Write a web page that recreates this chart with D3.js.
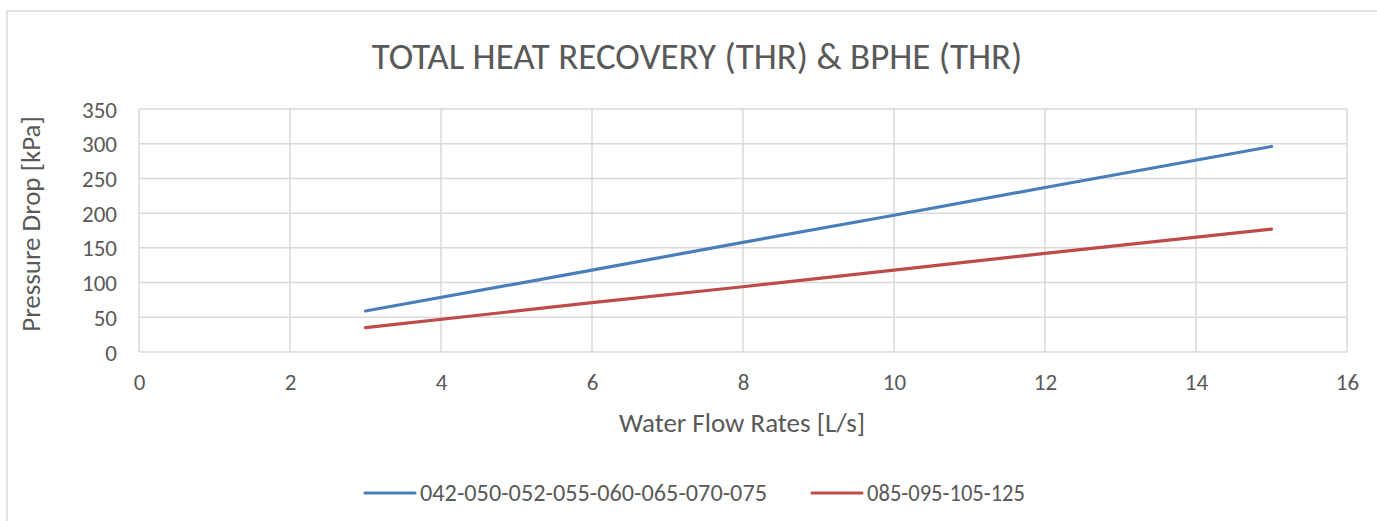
<!DOCTYPE html>
<html>
<head>
<meta charset="utf-8">
<script src="https://cdn.jsdelivr.net/npm/d3@7"></script>
<style>
  body { margin: 0; background: #fff; }
  svg { display: block; font-family: Carlito, "Open Sans", "Noto Sans", sans-serif; }
</style>
</head>
<body>
<div id="chart"></div>
<script>
// data
var flowBlue = [3, 6, 8, 10, 12, 15];
var dropBlue = [59, 118, 158, 197, 237, 296];
var flowRed = [3, 6, 8, 10, 12, 15];
var dropRed = [35, 71, 94, 118, 142, 177];
var seriesNames = ["042-050-052-055-060-065-070-075", "085-095-105-125"];
var seriesColors = ["#4a7ebb", "#be4b48"];
var xTicks = [0, 2, 4, 6, 8, 10, 12, 14, 16];
var yTicks = [0, 50, 100, 150, 200, 250, 300, 350];

var W = 1377, H = 521;
var margin = {left: 139, right: 30, top: 109, bottom: 169};

var svg = d3.select("#chart").append("svg")
  .attr("width", W).attr("height", H);

// outer chart frame (cut by the window on right and bottom)
svg.append("rect")
  .attr("x", 7).attr("y", 11)
  .attr("width", W + 10).attr("height", H + 10)
  .attr("fill", "#fff")
  .attr("stroke", "#d9d9d9").attr("stroke-width", 1.5);

var x = d3.scaleLinear().domain([0, 16]).range([margin.left, W - margin.right]);
var y = d3.scaleLinear().domain([0, 350]).range([H - margin.bottom, margin.top]);

// gridlines
svg.append("g").selectAll("line.v")
  .data(xTicks).enter().append("line")
  .attr("x1", function(d){ return x(d); }).attr("x2", function(d){ return x(d); })
  .attr("y1", y(0)).attr("y2", y(350))
  .attr("stroke", "#d9d9d9").attr("stroke-width", 1.5);
svg.append("g").selectAll("line.h")
  .data(yTicks).enter().append("line")
  .attr("x1", x(0)).attr("x2", x(16))
  .attr("y1", function(d){ return y(d); }).attr("y2", function(d){ return y(d); })
  .attr("stroke", "#d9d9d9").attr("stroke-width", 1.5);

// axes labels (no domain / ticks, just text)
var xAxis = svg.append("g")
  .attr("transform", "translate(0," + y(0) + ")")
  .call(d3.axisBottom(x).tickValues(xTicks).tickSize(0).tickPadding(22));
var yAxis = svg.append("g")
  .attr("transform", "translate(" + x(0) + ",0)")
  .call(d3.axisLeft(y).tickValues(yTicks).tickSize(0).tickPadding(22));
[xAxis, yAxis].forEach(function(a){
  a.select(".domain").remove();
  a.selectAll("text").attr("fill", "#595959").style("font-size", "23px")
    .style("font-family", "Carlito, 'Open Sans', 'Noto Sans', sans-serif");
});
yAxis.selectAll("text").attr("dy", "0.35em");

// lines
var line = d3.line()
  .x(function(d){ return x(d[0]); })
  .y(function(d){ return y(d[1]); });

var series = [d3.zip(flowBlue, dropBlue), d3.zip(flowRed, dropRed)];
series.forEach(function(s, i){
  svg.append("path")
    .datum(s)
    .attr("d", line)
    .attr("fill", "none")
    .attr("stroke", seriesColors[i])
    .attr("stroke-width", 3.2)
    .attr("stroke-linecap", "round");
});

// titles
svg.append("text")
  .attr("x", 697).attr("y", 69)
  .attr("text-anchor", "middle")
  .attr("fill", "#595959").style("font-size", "37px")
  .text("TOTAL HEAT RECOVERY (THR) & BPHE (THR)");

svg.append("text")
  .attr("x", 742).attr("y", 432)
  .attr("text-anchor", "middle")
  .attr("fill", "#595959").style("font-size", "27px")
  .text("Water Flow Rates [L/s]");

svg.append("text")
  .attr("transform", "translate(40,224) rotate(-90)")
  .attr("text-anchor", "middle")
  .attr("fill", "#595959").style("font-size", "27px")
  .text("Pressure Drop [kPa]");

// legend
var legendX = [365, 812];
var legend = svg.append("g").selectAll("g")
  .data(seriesNames).enter().append("g")
  .attr("transform", function(d, i){ return "translate(" + legendX[i] + ",493)"; });
legend.append("line")
  .attr("x1", 0).attr("x2", 50).attr("y1", 0).attr("y2", 0)
  .attr("stroke", function(d, i){ return seriesColors[i]; })
  .attr("stroke-width", 3.2).attr("stroke-linecap", "round");
legend.append("text")
  .attr("x", 55).attr("y", 0).attr("dy", "0.35em")
  .attr("fill", "#595959").style("font-size", "24px")
  .attr("textLength", function(d, i){ return i == 0 ? 347 : 158; })
  .attr("lengthAdjust", "spacingAndGlyphs")
  .text(function(d){ return d; });
</script>
</body>
</html>
